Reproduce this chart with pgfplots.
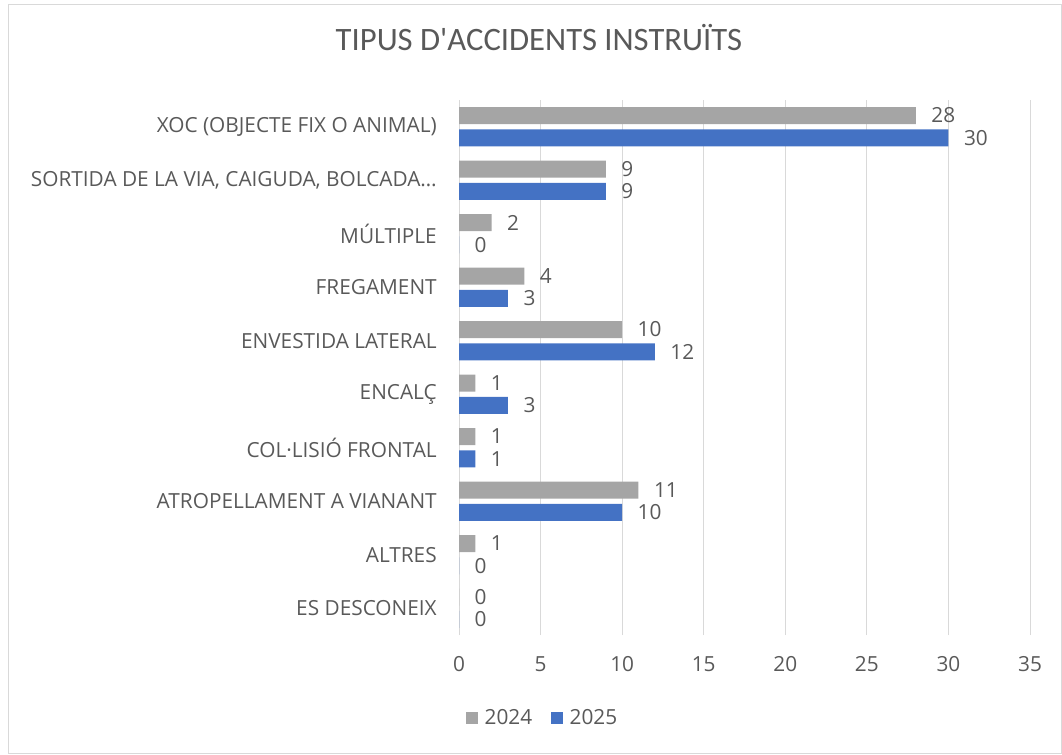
\documentclass[border=0pt]{standalone}
\usepackage{fontspec}
\setmainfont{Open Sans}
\newfontfamily\titlefont{Carlito}
\usepackage{pgfplots}
\pgfplotsset{compat=1.18}
\definecolor{g24}{HTML}{A5A5A5}
\definecolor{b25}{HTML}{4472C4}
\definecolor{txt}{HTML}{595959}
\definecolor{gridc}{HTML}{D9D9D9}

\begin{document}
\begin{tikzpicture}
\useasboundingbox (0,0) rectangle (796.5pt,565.5pt);
\draw[gridc, line width=0.75pt] (6pt,0.5pt) rectangle (796pt,562pt);
\begin{axis}[
  at={(344.25pt,89.25pt)}, anchor=south west,
  width=428.25pt, height=401.25pt, scale only axis,
  xbar, bar width=12.75pt,
  xmin=0, xmax=35, ymin=-0.5, ymax=9.5,
  xtick={0,5,...,35},
  ytick={0,...,9},
  yticklabels={ES DESCONEIX, ALTRES, ATROPELLAMENT A VIANANT, COL·LISIÓ FRONTAL,
    ENCALÇ, ENVESTIDA LATERAL, FREGAMENT, MÚLTIPLE,
    {SORTIDA DE LA VIA, CAIGUDA, BOLCADA…}, XOC (OBJECTE FIX O ANIMAL)},
  axis line style={draw=none},
  major tick length=0pt,
  xmajorgrids, grid style={gridc, line width=0.75pt},
  /pgf/number format/assume math mode=true,
  tick label style={font=\fontsize{15.6}{18}\selectfont, text=txt, inner sep=0pt},
  yticklabel style={anchor=east, xshift=-16.5pt},
  xticklabel style={anchor=north, yshift=-16pt},
  nodes near coords,
  nodes near coords style={font=\fontsize{15.6}{18}\selectfont, text=txt, anchor=west, inner sep=0pt, xshift=11.5pt},
  title={TIPUS D\textquotesingle ACCIDENTS INSTRUÏTS},
  title style={at={(rel axis cs:0.14,1.101)}, anchor=center, font=\titlefont\fontsize{24.5}{29}\selectfont, text=txt},
  legend columns=2,
  legend style={at={(rel axis cs:0.147,-0.155)}, anchor=center, draw=none,
    font=\fontsize{15.6}{18}\selectfont, text=txt,
    /tikz/every even column/.append style={column sep=12pt}},
  legend image code/.code={\fill[#1] (0pt,-4.5pt) rectangle (9pt,4.5pt); \path (12pt,0pt);},
]
\addplot[fill=g24, draw=none, bar shift=8.4pt] coordinates {
  (0,0) (1,1) (11,2) (1,3) (1,4) (10,5) (4,6) (2,7) (9,8) (28,9)
};
\addplot[fill=b25, draw=none, bar shift=-8.4pt] coordinates {
  (0,0) (0,1) (10,2) (1,3) (3,4) (12,5) (3,6) (0,7) (9,8) (30,9)
};
\legend{2024,2025}
\end{axis}
\end{tikzpicture}
\end{document}
